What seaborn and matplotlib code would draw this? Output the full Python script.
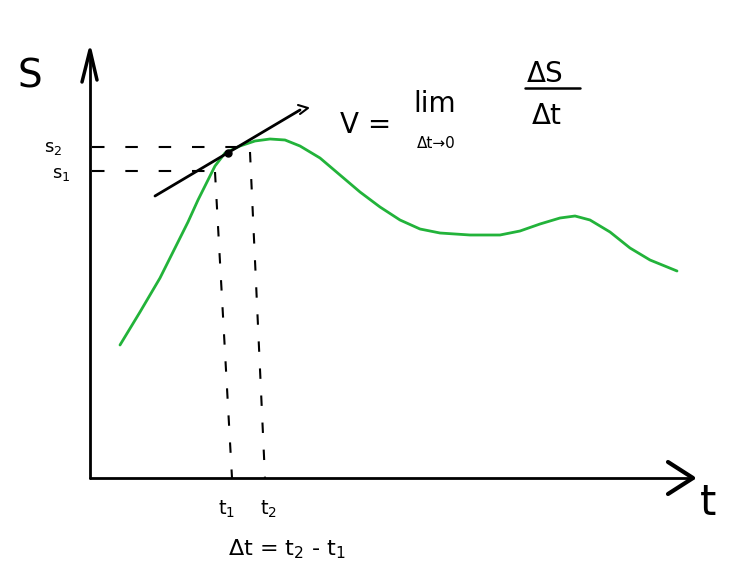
import matplotlib
matplotlib.use("Agg")
import matplotlib.pyplot as plt
import seaborn as sns
import pandas as pd

sns.set_theme(style="white")
plt.rcParams['font.family'] = ['DejaVu Sans']

# Green curve s(t) (pixel-like units, y downward)
t_vals = [120, 140, 160, 175, 188, 198, 207, 215, 225, 240, 255, 270, 285, 300, 320, 340,
          360, 380, 400, 420, 440, 470, 500, 520, 540, 560, 575, 590, 610, 630, 650, 677]
s_vals = [345, 312, 278, 248, 222, 200, 182, 166, 153, 146, 141, 139, 140, 146, 158, 175,
          192, 207, 220, 229, 233, 235, 235, 231, 224, 218, 216, 220, 232, 248, 260, 271]

# Tangent line and marked points
tangent_t = [155, 300]
tangent_s = [196, 110]
point_t = [228]
point_s = [153]
t1_line = [215, 232]
t2_line = [250, 265]
s1_level = 171
s2_level = 147

df = pd.DataFrame({"t": t_vals, "s": s_vals})

fig = plt.figure(figsize=(7.51, 5.77), dpi=100)
ax = fig.add_axes([0, 0, 1, 1])
ax.set_xlim(0, 751)
ax.set_ylim(577, 0)
ax.axis("off")

sns.lineplot(data=df, x="t", y="s", ax=ax, color="#22b33a", linewidth=2, sort=False)

# Axes arrows
ax.plot([90, 90], [478, 52], color="black", lw=2)
ax.plot([82, 90, 97], [82, 50, 80], color="black", lw=2.5)
ax.plot([90, 693], [478, 478], color="black", lw=2)
ax.plot([668, 693, 668], [462, 478, 494], color="black", lw=3)

# Tangent line with small arrow
ax.plot(tangent_t, tangent_s, color="black", lw=2)
ax.plot([298, 308, 300], [105, 108, 114], color="black", lw=1.5)
ax.plot(point_t, point_s, "o", color="black", ms=5)

# Dashed helper lines
ax.plot([92, 250], [s2_level, s2_level], color="black", lw=1.5, ls=(0, (6, 10)))
ax.plot([92, 215], [s1_level, s1_level], color="black", lw=1.5, ls=(0, (6, 10)))
ax.plot(t1_line, [172, 478], color="black", lw=1.5, ls=(0, (5, 8)))
ax.plot(t2_line, [152, 478], color="black", lw=1.5, ls=(0, (5, 8)))

# Labels
ax.text(18, 88, "S", fontsize=28, color="black")
ax.text(44, 152, "s$_2$", fontsize=13, color="black")
ax.text(52, 178, "s$_1$", fontsize=13, color="black")
ax.text(218, 515, "t$_1$", fontsize=14, color="black")
ax.text(260, 515, "t$_2$", fontsize=14, color="black")
ax.text(228, 555, "Δt = t$_2$ - t$_1$", fontsize=16, color="black")
ax.text(700, 515, "t", fontsize=30, color="black")
ax.text(340, 133, "V =", fontsize=20, color="black")
ax.text(413, 112, "lim", fontsize=20, color="black")
ax.text(417, 148, "Δt→0", fontsize=11, color="black")
ax.text(527, 82, "ΔS", fontsize=20, color="black")
ax.plot([525, 580], [88, 88], color="black", lw=1.8)
ax.text(532, 124, "Δt", fontsize=20, color="black")

fig.savefig("out.png", dpi=100)
